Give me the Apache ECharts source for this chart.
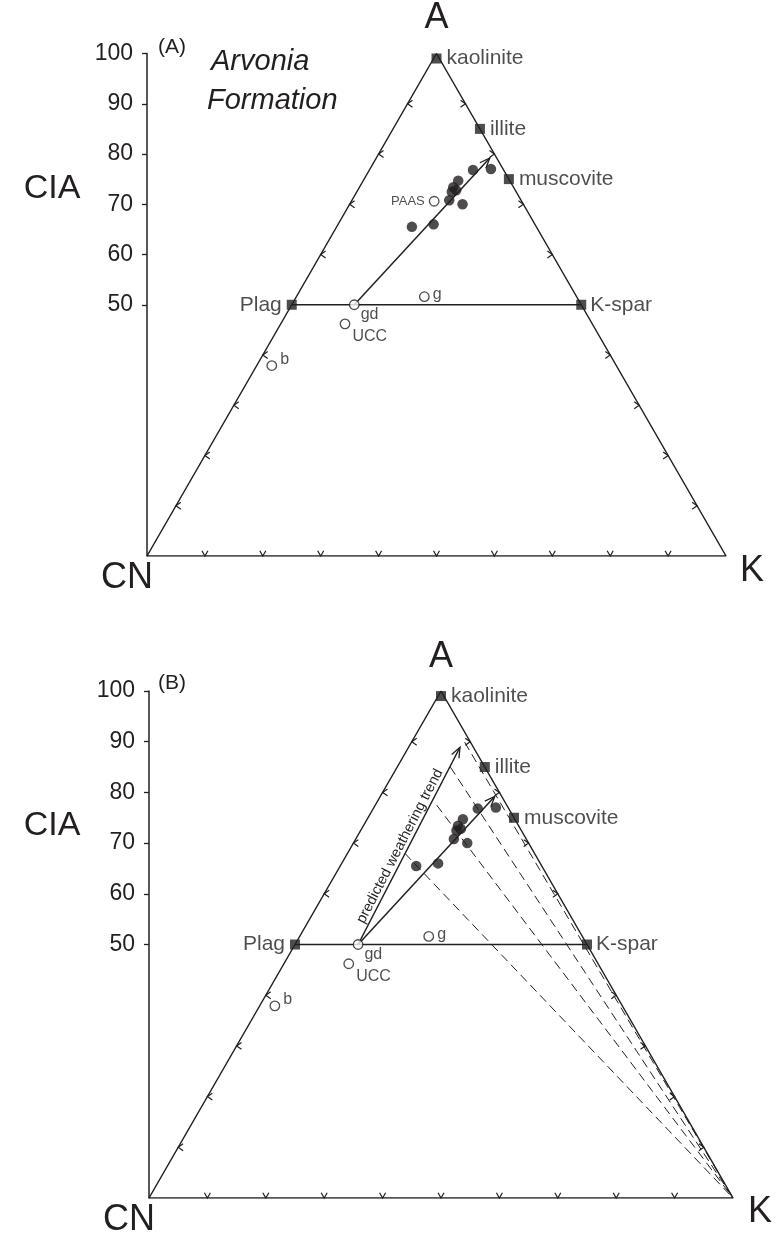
<!DOCTYPE html>
<html>
<head>
<meta charset="utf-8">
<script src="https://cdn.jsdelivr.net/npm/echarts@6/dist/echarts.min.js"></script>
<style>
  html, body { margin: 0; padding: 0; background: #fff; }
  #chart { width: 776px; height: 1242px; }
</style>
</head>
<body>
<div id="chart"></div>
<script>
// ---- A–CN–K ternary data (molar proportions, %) ----
const cnkTicks = [50, 60, 70, 80, 90, 100];

const mineralNames = ['kaolinite', 'illite', 'muscovite', 'Plag', 'K-spar'];
const mineralA  = [99, 85, 75, 50, 50];
const mineralCN = [0.5, 0, 0, 50, 0];
const mineralK  = [0.5, 15, 25, 0, 50];

const rockNames = ['PAAS', 'gd', 'UCC', 'g', 'b'];
const rockA  = [70.6, 50.0, 46.2, 51.6, 37.9];
const rockCN = [15.1, 39.2, 42.7, 26.3, 59.5];
const rockK  = [14.3, 10.8, 11.1, 22.1, 2.6];
// PAAS is only shown in panel (A)
const rocksInPanelB = ['gd', 'UCC', 'g', 'b'];

// Arvonia Formation samples
const sampleA  = [76.8, 77.0, 74.7, 73.4, 72.8, 72.5, 70.8, 70.0, 65.5, 66.0];
const sampleK  = [17.9, 20.9, 16.4, 16.2, 17.0, 16.4, 16.8, 19.5, 13.0, 16.5];
const sampleCN = sampleA.map((a, i) => +(100 - a - sampleK[i]).toFixed(1));

// trend arrows: start (gd) and end compositions [A, CN, K]
const observedTrend  = [[50.0, 39.2, 10.8], [79.2, 1.2, 19.6]];
const predictedTrend = [[50.0, 39.2, 10.8], [88.9, 2.3, 8.8]];

// K-metasomatism correction lines: from the predicted trend to the K apex
const correctionStartA  = [89.9, 85.0, 77.5, 68.0];
const correctionStartK  = [9.1, 9.1, 10.5, 9.8];

// ---- helpers ----
const INK = '#231f20';
const FONT = '"Liberation Sans", Arial, Helvetica, sans-serif';

// ternary [A, CN, K] -> cartesian [x, y] in a 0..100 frame (CN at origin)
function tern(a, cn, k) {
  const s = a + cn + k;
  const A = a / s * 100, K = k / s * 100;
  return [K + A / 2, A];
}

// edge tick marks every 10 %: edge 0 = CN–K base, 1 = CN–A, 2 = A–K
function edgeTicks() {
  const out = [];
  for (let v = 10; v <= 90; v += 10) {
    out.push([v, 0, 0]);
    if (v !== 50) {
      out.push([v / 2, v, 1]);
      out.push([100 - v / 2, v, 2]);
    }
  }
  return out;
}

const labelStyle = {
  kaolinite: { position: 'right', distance: 5 },
  illite:    { position: 'right', distance: 5 },
  muscovite: { position: 'right', distance: 5 },
  'Plag':    { position: 'left',  distance: 5 },
  'K-spar':  { position: 'right', distance: 4 }
};
const rockLabelStyle = {
  PAAS: { position: 'left', distance: 4, fontSize: 13 },
  gd:   { position: 'right', offset: [0, 10], distance: 1, fontSize: 16 },
  UCC:  { position: 'right', offset: [0, 13], distance: 2, fontSize: 16 },
  g:    { position: 'right', offset: [0, -2], distance: 3, fontSize: 16 },
  b:    { position: 'right', offset: [0, -6], distance: 3, fontSize: 16 }
};

function panelSeries(p, withPrediction) {
  const ax = { xAxisIndex: p, yAxisIndex: p };
  const series = [];

  // triangle outline
  series.push(Object.assign({
    type: 'line', silent: true, symbol: 'none', z: 2,
    data: [[0, 0], [100, 0], [50, 100], [0, 0]],
    lineStyle: { color: INK, width: 1.5 }
  }, ax));

  // Plag – K-spar feldspar join
  series.push(Object.assign({
    type: 'line', silent: true, symbol: 'none', z: 2,
    data: [tern(50, 50, 0), tern(50, 0, 50)],
    lineStyle: { color: INK, width: 1.5 }
  }, ax));

  // chevron ticks on the three edges
  series.push(Object.assign({
    type: 'custom', silent: true, z: 3,
    data: edgeTicks(),
    renderItem: function (params, api) {
      const pt = api.coord([api.value(0), api.value(1)]);
      const edge = api.value(2);
      const L = 6;
      let pts;
      if (edge === 0) {
        const a = Math.PI / 6;
        pts = [[pt[0] - L * Math.sin(a), pt[1] - L * Math.cos(a)], pt, [pt[0] + L * Math.sin(a), pt[1] - L * Math.cos(a)]];
      } else {
        const dir = edge === 1 ? 1 : -1;
        const a = 35 * Math.PI / 180;
        pts = [[pt[0] + dir * L * Math.cos(a), pt[1] - L * Math.sin(a)], pt, [pt[0] + dir * L * Math.cos(a), pt[1] + L * Math.sin(a)]];
      }
      return { type: 'polyline', shape: { points: pts }, style: { stroke: INK, lineWidth: 1.2, fill: null } };
    }
  }, ax));

  // dashed correction lines to the K apex
  if (withPrediction) {
    correctionStartA.forEach(function (a, i) {
      const k = correctionStartK[i];
      series.push(Object.assign({
        type: 'line', silent: true, symbol: 'none', z: 2,
        data: [tern(a, 100 - a - k, k), tern(0, 0, 100)],
        lineStyle: { color: INK, width: 1, type: [9, 5] }
      }, ax));
    });
  }

  // trend arrows
  const arrows = [{ from: observedTrend[0], to: observedTrend[1], text: '' }];
  if (withPrediction) arrows.push({ from: predictedTrend[0], to: predictedTrend[1], text: 'predicted weathering trend' });
  series.push(Object.assign({
    type: 'custom', silent: true, z: 4,
    data: arrows.map(function (r) {
      const s = tern.apply(null, r.from), e = tern.apply(null, r.to);
      return { value: [s[0], s[1], e[0], e[1]], name: r.text };
    }),
    renderItem: function (params, api) {
      const s = api.coord([api.value(0), api.value(1)]);
      const e = api.coord([api.value(2), api.value(3)]);
      const ang = Math.atan2(e[1] - s[1], e[0] - s[0]);
      const H = 11, spread = 22 * Math.PI / 180;
      const h1 = [e[0] - H * Math.cos(ang - spread), e[1] - H * Math.sin(ang - spread)];
      const h2 = [e[0] - H * Math.cos(ang + spread), e[1] - H * Math.sin(ang + spread)];
      const children = [
        { type: 'line', shape: { x1: s[0], y1: s[1], x2: e[0], y2: e[1] }, style: { stroke: INK, lineWidth: 1.5 } },
        { type: 'polyline', shape: { points: [h1, e, h2] }, style: { stroke: INK, lineWidth: 1.3, fill: null } }
      ];
      const name = arrows[params.dataIndex].text;
      if (name) {
        const t = 0.48;
        const mx = s[0] + (e[0] - s[0]) * t, my = s[1] + (e[1] - s[1]) * t;
        const nx = Math.sin(ang), ny = -Math.cos(ang); // normal pointing to the upper-left of the arrow
        const off = 8;
        children.push({
          type: 'text',
          x: mx + nx * off, y: my + ny * off,
          rotation: -ang,
          style: { text: name, font: '14.5px ' + FONT, fill: INK, align: 'center', verticalAlign: 'middle' }
        });
      }
      return { type: 'group', children: children };
    }
  }, ax));

  // samples
  series.push(Object.assign({
    type: 'scatter', silent: true, z: 6,
    symbol: 'circle', symbolSize: 10.5,
    itemStyle: { color: INK },
    data: sampleA.map((a, i) => tern(a, sampleCN[i], sampleK[i]))
  }, ax));

  // reference compositions (open circles)
  const shownRocks = withPrediction ? rocksInPanelB : rockNames;
  series.push(Object.assign({
    type: 'scatter', silent: true, z: 7,
    symbol: 'circle', symbolSize: 9.5,
    itemStyle: { color: '#fff', borderColor: INK, borderWidth: 1.3 },
    data: shownRocks.map(function (n) {
      const i = rockNames.indexOf(n);
      return {
        name: n, value: tern(rockA[i], rockCN[i], rockK[i]),
        label: Object.assign({ show: true, formatter: n, color: INK, fontFamily: FONT }, rockLabelStyle[n])
      };
    })
  }, ax));

  // minerals (filled squares)
  series.push(Object.assign({
    type: 'scatter', silent: true, z: 8,
    symbol: 'rect', symbolSize: 10,
    itemStyle: { color: INK },
    data: mineralNames.map(function (n, i) {
      return {
        name: n, value: tern(mineralA[i], mineralCN[i], mineralK[i]),
        label: Object.assign({ show: true, formatter: n, color: INK, fontSize: 21, fontFamily: FONT }, labelStyle[n])
      };
    })
  }, ax));

  return series;
}

function yAxisFor(p) {
  return {
    type: 'value', gridIndex: p, min: 0, max: 100, interval: 10,
    axisLine: { show: true, lineStyle: { color: INK, width: 1.5 } },
    axisTick: { show: true, length: 5, lineStyle: { color: INK, width: 1.3 }, customValues: cnkTicks },
    axisLabel: { show: true, customValues: cnkTicks, fontSize: 23, color: INK, fontFamily: FONT, margin: 14 },
    splitLine: { show: false }
  };
}
function xAxisFor(p) {
  return { type: 'value', gridIndex: p, min: 0, max: 100, show: false, splitLine: { show: false } };
}

function txt(x, y, text, size, extra) {
  return {
    type: 'text', x: x, y: y, silent: true,
    style: Object.assign({ text: text, font: size + 'px ' + FONT, fill: INK, align: 'center', verticalAlign: 'middle' }, extra || {})
  };
}

const chart = echarts.init(document.getElementById('chart'), null, { renderer: 'canvas' });
chart.setOption({
  animation: false,
  backgroundColor: '#fff',
  grid: [
    { left: 147, top: 53.5, width: 579, height: 502.5 },
    { left: 149, top: 691, width: 584, height: 507 }
  ],
  xAxis: [xAxisFor(0), xAxisFor(1)],
  yAxis: [yAxisFor(0), yAxisFor(1)],
  series: panelSeries(0, false).concat(panelSeries(1, true)),
  graphic: [
    // panel A
    txt(436.5, 18, 'A', 36),
    txt(127, 578, 'CN', 36),
    txt(752, 571, 'K', 36),
    txt(52, 189, 'CIA', 34),
    txt(158, 47, '(A)', 21, { align: 'left' }),
    txt(211, 62, 'Arvonia', 29, { align: 'left', font: 'italic 29px ' + FONT }),
    txt(207, 101, 'Formation', 29, { align: 'left', font: 'italic 29px ' + FONT }),
    // panel B
    txt(441, 657, 'A', 36),
    txt(129, 1220, 'CN', 36),
    txt(760, 1212, 'K', 36),
    txt(52, 826, 'CIA', 34),
    txt(158, 683, '(B)', 21, { align: 'left' })
  ]
});
</script>
</body>
</html>
